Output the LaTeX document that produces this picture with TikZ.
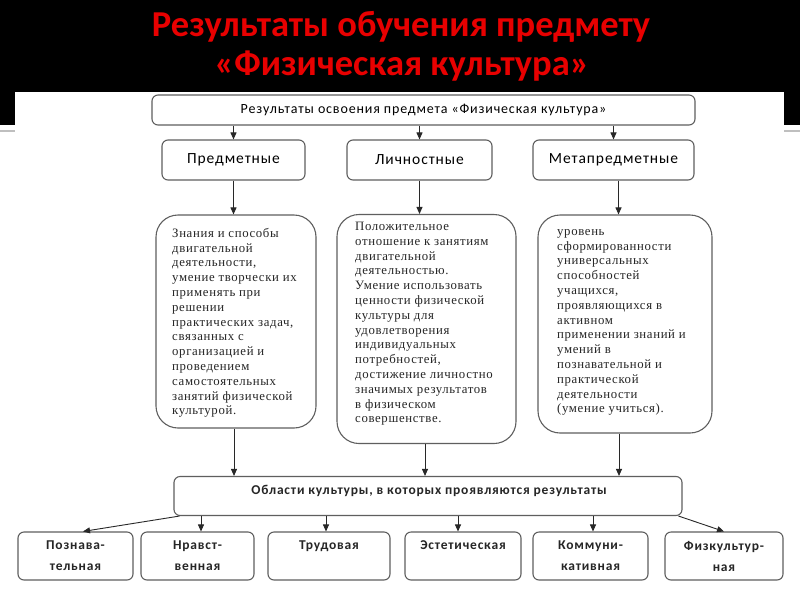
\documentclass[tikz,border=0pt]{standalone}
\usepackage{fontspec}
\setmainfont{Liberation Serif}
\newfontfamily\titlefont{Carlito}
\newfontfamily\sansbox[LetterSpace=6]{Carlito}
\newfontfamily\serifbox[LetterSpace=5]{Liberation Serif}
\usetikzlibrary{arrows.meta}
\definecolor{titlered}{RGB}{232,0,0}
\definecolor{boxline}{RGB}{95,95,95}
\definecolor{arrowline}{RGB}{40,40,40}
\begin{document}
\begin{tikzpicture}[x=1pt,y=-1pt,
  titletext/.style={text=titlered, font=\titlefont\bfseries\fontsize{36.5}{40}\selectfont, anchor=base, inner sep=0pt},
  sbox/.style={draw=boxline, line width=1.1pt, rounded corners=6pt, inner sep=0pt, align=center},
  toplab/.style={sbox, font=\sansbox\fontsize{15.5}{17}\selectfont, text=black},
  botlab/.style={sbox, font=\sansbox\bfseries\fontsize{13.5}{21}\selectfont, minimum height=48pt, text=black!85},
  bigbox/.style={draw=boxline, line width=1.1pt, rounded corners=22pt, inner sep=0pt},
  bigtext/.style={anchor=north west, inner sep=0pt, align=left, font=\serifbox\fontsize{12.8}{14.8}\selectfont, text=black!85},
  arr/.style={draw=arrowline, line width=0.9pt, -{Triangle[length=7pt,width=6pt]}}]
\useasboundingbox (0,0) rectangle (800,600);
\fill[white] (0,0) rectangle (800,600);
\fill[black] (0,0) rectangle (800,125);
\draw[black!25, line width=2pt] (0,131) -- (800,131);
\fill[white] (15,92) rectangle (784,600);

\node[titletext] (t1) at (401,36) {Результаты обучения предмету};
\node[titletext] (t2) at (402,75) {«Физическая культура»};

\node[toplab, minimum width=543pt, minimum height=30pt, font=\sansbox\fontsize{14}{17}\selectfont] (top) at (423.5,110) {Результаты освоения предмета «Физическая культура»};
\node[toplab, minimum width=143pt, minimum height=40pt] (pred) at (233.5,160) {Предметные};
\node[toplab, minimum width=145pt, minimum height=40pt] (lich) at (419.5,160) {Личностные};
\node[toplab, minimum width=161pt, minimum height=40pt] (meta) at (613.5,160) {Метапредметные};

\node[bigbox, minimum width=160pt, minimum height=213pt] (bl) at (236,321.5) {};
\node[bigbox, minimum width=179pt, minimum height=229pt] (bm) at (426.5,329) {};
\node[bigbox, minimum width=174pt, minimum height=218pt] (br) at (625,324) {};

\node[bigtext] (blt) at (172,228) {Знания и способы\\двигательной\\деятельности,\\умение творчески их\\применять при\\решении\\практических задач,\\связанных с\\организацией и\\проведением\\самостоятельных\\занятий физической\\культурой.};
\node[bigtext] (bmt) at (355,222) {Положительное\\отношение к занятиям\\двигательной\\деятельностью.\\Умение использовать\\ценности физической\\культуры для\\удовлетворения\\индивидуальных\\потребностей,\\достижение личностно\\значимых результатов\\в физическом\\совершенстве.};
\node[bigtext] (brt) at (557,229) {уровень\\сформированности\\универсальных\\способностей\\учащихся,\\проявляющихся в\\активном\\применении знаний и\\умений в\\познавательной и\\практической\\деятельности\\(умение учиться).};

\node[sbox, minimum width=508pt, minimum height=39pt] (bot) at (428,496) {};
\node[inner sep=0pt, font=\sansbox\bfseries\fontsize{13.5}{15}\selectfont, text=black!85] (bott) at (429,491) {Области культуры, в которых проявляются результаты};

\node[botlab, minimum width=115pt] (b1) at (75.5,556) {Познава-\\тельная};
\node[botlab, minimum width=113pt] (b2) at (197.5,556) {Нравст-\\венная};
\node[botlab, minimum width=122pt] (b3) at (329,556) {Трудовая\\\mbox{}};
\node[botlab, minimum width=116pt] (b4) at (463,556) {Эстетическая\\\mbox{}};
\node[botlab, minimum width=115pt] (b5) at (590.5,556) {Коммуни-\\кативная};
\node[botlab, minimum width=118pt] (b6) at (724,556) {Физкультур-\\ная};

\draw[arr] (top.south -| pred.north) -- (pred.north);
\draw[arr] (top.south -| lich.north) -- (lich.north);
\draw[arr] (top.south -| meta.north) -- (meta.north);

\draw[arr] (pred.south) -- (pred.south |- bl.north);
\draw[arr] (lich.south) -- (lich.south |- bm.north);
\draw[arr] ([xshift=5pt]meta.south) -- ([xshift=5pt]meta.south |- br.north);

\draw[arr] ([xshift=-2pt]bl.south) -- ([xshift=-2pt]bl.south |- bot.north);
\draw[arr] ([xshift=-1.5pt]bm.south) -- ([xshift=-1.5pt]bm.south |- bot.north);
\draw[arr] ([xshift=-6pt]br.south) -- ([xshift=-6pt]br.south |- bot.north);

\draw[arr] ([xshift=6pt]bot.south west) -- ([xshift=7.5pt]b1.north);
\draw[arr] ([xshift=3.5pt]b2.north |- bot.south) -- ([xshift=3.5pt]b2.north);
\draw[arr] ([xshift=-3pt]b3.north |- bot.south) -- ([xshift=-3pt]b3.north);
\draw[arr] ([xshift=-5pt]b4.north |- bot.south) -- ([xshift=-5pt]b4.north);
\draw[arr] ([xshift=2.5pt]b5.north |- bot.south) -- ([xshift=2.5pt]b5.north);
\draw[arr] ([xshift=-4pt]bot.south east) -- (b6.north);
\end{tikzpicture}
\end{document}
